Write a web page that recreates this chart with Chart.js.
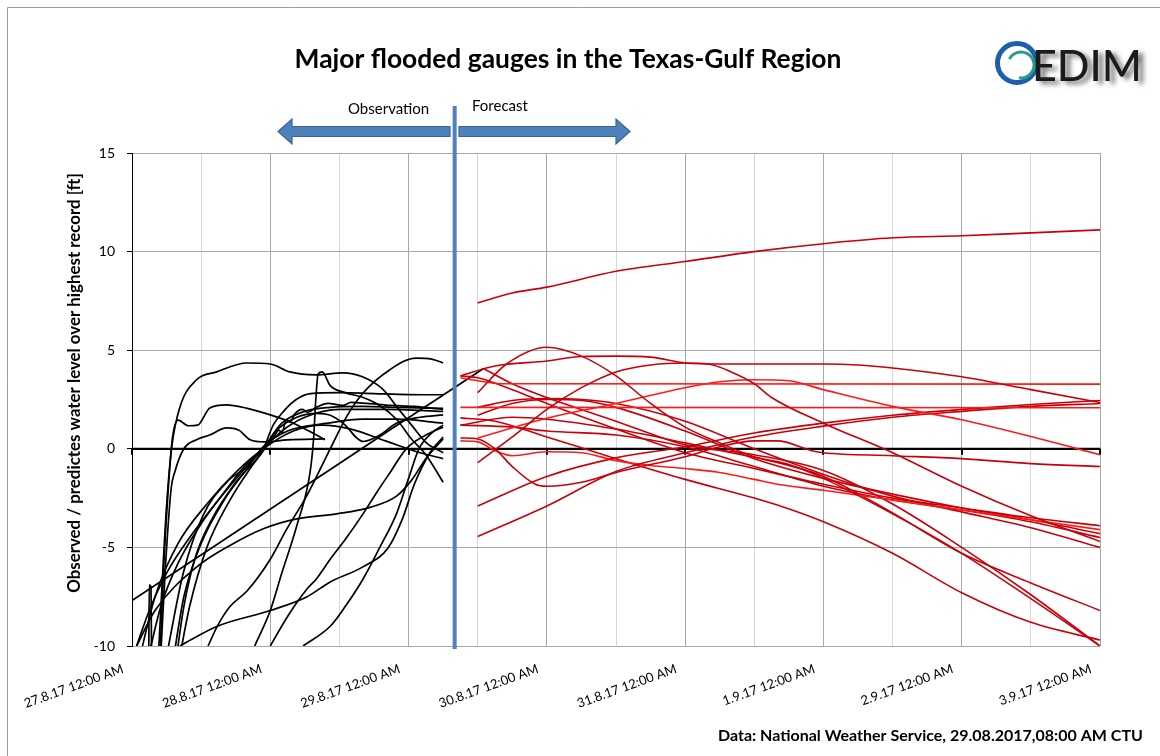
<!DOCTYPE html>
<html>
<head>
<meta charset="utf-8">
<script src="https://cdn.jsdelivr.net/npm/chart.js@4/dist/chart.umd.min.js"></script>
<style>
  html, body { margin: 0; padding: 0; background: #fff; }
  #c { display: block; }
</style>
</head>
<body>
<canvas id="c" width="1160" height="756"></canvas>
<script>
// x = hours after 27.8.17 12:00 AM, y = ft over highest record
var dayLabels = ['27.8.17 12:00 AM', '28.8.17 12:00 AM', '29.8.17 12:00 AM', '30.8.17 12:00 AM',
                 '31.8.17 12:00 AM', '1.9.17 12:00 AM', '2.9.17 12:00 AM', '3.9.17 12:00 AM'];
var yTicks = [-10, -5, 0, 5, 10, 15];
var issueHour = 56; // 29.8.17 08:00

// observed gauges (black)
var obs01 = [[4.5,-11],[5.2,-7],[6.0,-2.9],[6.9,0.1],[8.3,2.1],[11.2,3.5],[14.7,3.9],[19.9,4.35],[24,4.3],[27.4,3.9],[32,3.75],[36.6,3.85],[40,3.65],[43.6,3.0],[45.9,2.15],[48.8,1.1],[51.1,0.3],[54,-0.2]];
var obs02 = [[13.2,-10],[14.8,-9.0],[17,-8.0],[20,-7.2],[24,-5.6],[26.8,-4.1],[30.3,-2.4],[34.4,0],[37.3,1.66],[40.1,2.83],[44.7,4.0],[49.3,4.6],[52,4.55],[54,4.35]];
var obs03 = [[4.8,-11],[5.5,-6],[6.3,-2],[7.0,0.5],[8.0,1.45],[9.8,1.17],[11.4,1.2],[13.5,2.07],[16.4,2.23],[20,2.05],[24,1.72],[28,1.3],[32,0.7],[33.5,0.46]];
var obs04 = [[4.9,-11],[5.8,-6],[6.8,-2],[7.4,-1.2],[9,0.0],[11.2,0.46],[13.5,0.7],[16.4,1.06],[18.5,0.95],[20.5,0.46],[23,0.35],[27,0.45],[33.5,0.5]];
var obs05 = [[6.0,-10.5],[8.9,-6.3],[12.3,-3.4],[16.4,-1.7],[19.9,-0.9],[22.8,0.1],[24.6,0.6],[25.5,0.95],[26,0.8],[26.8,1.47],[27.5,1.35],[28.2,1.75],[29.6,2.0],[30.5,1.85],[32,2.1],[34,2.3],[36.6,2.2],[38,2.35],[40.8,2.3],[45,2.2],[49,2.15],[54,2.0]];
var obs06 = [[21.3,-10],[24,-8.2],[26,-6.3],[28.6,-3.9],[30.9,-1.2],[31.5,0.46],[31.9,2.5],[32.3,3.8],[33,3.9],[34.4,3.2],[37,2.85],[40.1,2.6],[43,2.2],[45.9,1.5],[48.5,0.5],[51,-0.3],[54,-1.7]];
var obs07 = [[7.5,-11],[9,-8],[11,-5.5],[14,-3.5],[18,-1.7],[22.8,0],[24.5,1.2],[26.3,1.9],[28.5,2.5],[31,2.8],[36,2.85],[42,2.8],[48,2.75],[54,2.74]];
var obs08 = [[8,-11],[10,-8],[13,-5],[17,-2.6],[20.5,-1.0],[22.8,-0.1],[25,0.9],[28.6,1.6],[32,1.8],[34.4,1.7],[37,1.2],[39,0.55],[40.1,0.37],[43,0.7],[45.9,1.3],[50,1.6],[54,1.72]];
var obs09 = [[0,-7.7],[15,-4.8],[30,-1.9],[45,1.0],[61,4.07]];
var obs10 = [[0.8,-10],[4,-8.2],[11.2,-6.0],[17,-4.9],[22.8,-4.05],[28.6,-3.55],[35.5,-3.3],[41.3,-2.97],[45.9,-2.4],[48.5,-1.6],[51,-0.5],[54,0.5]];
var obs11 = [[2.5,-11],[5,-8],[8,-5.8],[12,-3.8],[16,-2.2],[19.5,-0.9],[22.8,0.05],[26,1.3],[30,1.9],[34.4,2.1],[40,2.15],[46,2.1],[54,2.05]];
var obs12 = [[7,-11],[9,-7.5],[12,-4.8],[16,-2.6],[20,-1.0],[22.8,0.1],[27,0.9],[34,1.3],[40,1.5],[46,1.5],[54,1.3]];
var obs13 = [[8.3,-10],[14.8,-9.0],[24,-8.2],[30.4,-7.5],[34.4,-6.75],[40,-6.0],[44.5,-5.0],[47,-3.5],[49,-1.8],[51.7,-0.2],[54,0.6]];
var obs14 = [[24,-10],[27,-8.5],[30.4,-7.1],[32,-6.6],[34.4,-5.6],[37,-4.6],[40.1,-3.3],[42.5,-2.2],[44.8,-1.2],[47.6,0],[51.7,0.8],[54,1.1]];
var obs15 = [[29.7,-10],[34.4,-9.0],[37,-8.0],[40.1,-6.6],[43,-5.0],[45.9,-3.3],[48,-1.5],[49.8,0],[52,0.8],[54,1.2]];
var obs16 = [[1,-11],[4,-7.5],[8,-4.8],[13,-2.8],[18,-1.2],[22.8,0.0],[28,0.9],[33,1.2],[38,1.0],[44,0.4],[50,-0.2],[54,-0.5]];
var obs17 = [[2.9,-11],[3.0,-6.9],[3.3,-7.0],[3.4,-11]];
var obs18 = [[0.8,-10],[3,-8.2],[6,-6.3],[10,-4.5],[15,-2.6],[19,-1.2],[22.8,0.0],[26,0.9],[30,1.6],[36,2.0],[44,2.0],[54,1.9]];

// forecasts (red)
var fc01 = [[60,7.4],[66,7.9],[72,8.2],[84,9.0],[96,9.5],[108,10.0],[120,10.4],[132,10.7],[144,10.8],[156,10.95],[168,11.1]];
var fc02 = [[60,2.85],[65,4.3],[72,5.15],[78,4.7],[84,3.7],[90,2.3],[96,1.1],[102,0.3],[108,-0.4],[114,-0.8],[120,-1.5],[132,-3.3],[144,-5.3],[156,-7.6],[168,-10]];
var fc03 = [[57,3.7],[63,4.2],[72,4.45],[78,4.68],[84,4.7],[90,4.65],[96,4.35],[102,4.3],[108,4.3],[120,4.3],[126,4.25],[132,4.1],[144,3.65],[156,3.0],[168,2.35]];
var fc04 = [[60,-0.7],[66,0.6],[72,2.0],[78,3.1],[84,3.9],[90,4.25],[96,4.35],[100,4.3],[104,3.9],[108,3.3],[111,2.6],[120,1.3],[132,-0.2],[144,-1.9],[156,-3.4],[168,-4.7]];
var fc05 = [[57,3.6],[60,3.45],[64,3.3],[168,3.28]];
var fc06 = [[57,2.1],[168,2.08]];
var fc07 = [[60,0.55],[72,1.55],[84,2.3],[96,3.1],[102,3.4],[108,3.5],[114,3.45],[120,3.0],[132,2.15],[144,1.47],[156,0.62],[168,-0.3]];
var fc08 = [[57,0.55],[60,0.5],[63,0.0],[66,-0.9],[70,-1.8],[72,-1.9],[78,-1.7],[84,-1.2],[96,-0.4],[102,0.1],[108,0.4],[112,0.4],[118,-0.1],[120,-0.2],[132,-0.35],[144,-0.5],[156,-0.75],[168,-0.9]];
var fc09 = [[60,-2.9],[72,-1.4],[84,-0.46],[96,0.1],[108,0.8],[120,1.3],[132,1.7],[144,2.0],[156,2.25],[168,2.45]];
var fc10 = [[60,-4.45],[72,-2.9],[84,-1.15],[96,-0.2],[108,0.6],[120,1.15],[132,1.6],[144,1.9],[156,2.15],[168,2.3]];
var fc11 = [[57,0.4],[60,0.35],[63,-0.1],[66,-0.35],[72,-0.15],[78,-0.2],[84,-0.6],[90,-0.85],[96,-1.0],[102,-1.2],[108,-1.55],[112,-1.8],[120,-2.1],[132,-2.6],[144,-3.1],[156,-3.6],[168,-4.1]];
var fc12 = [[57,3.7],[60,3.6],[66,3.0],[72,2.3],[84,1.0],[96,-0.2],[108,-1.0],[120,-1.8],[132,-2.5],[144,-3.0],[156,-3.5],[168,-3.9]];
var fc13 = [[61,4.07],[66,3.3],[72,2.6],[84,1.4],[96,0.2],[108,-0.3],[120,-1.1],[132,-2.8],[144,-5.0],[156,-7.4],[168,-10]];
var fc14 = [[57,1.57],[63,1.4],[72,0.6],[84,-0.5],[96,-1.55],[108,-2.5],[112,-2.85],[120,-3.7],[132,-5.3],[144,-7.3],[156,-8.8],[168,-9.7]];
var fc15 = [[57,1.2],[66,1.6],[72,1.5],[84,1.0],[96,0.3],[104,-0.2],[110,-0.55],[120,-1.4],[132,-3.25],[144,-5.3],[156,-6.8],[168,-8.2]];
var fc16 = [[60,2.1],[66,2.45],[72,2.55],[78,2.5],[84,2.3],[96,1.4],[108,0.0],[120,-1.3],[132,-2.4],[144,-3.2],[156,-4.0],[168,-5.0]];
var fc17 = [[60,1.7],[66,2.3],[72,2.5],[78,2.45],[84,2.1],[96,0.9],[108,-0.5],[120,-1.5],[132,-2.3],[144,-3.0],[156,-3.6],[168,-4.3]];
var fc18 = [[57,1.2],[66,1.1],[72,0.9],[84,0.7],[96,0.1],[108,-0.9],[120,-1.9],[132,-2.6],[144,-3.1],[156,-3.7],[168,-4.5]];

var observed = [obs01, obs02, obs03, obs04, obs05, obs06, obs07, obs08, obs09,
                obs10, obs11, obs12, obs13, obs14, obs15, obs16, obs17, obs18];
var forecast = [fc01, fc02, fc03, fc04, fc05, fc06, fc07, fc08, fc09, fc10,
                fc11, fc12, fc13, fc14, fc15, fc16, fc17, fc18];
var brightRed = [fc05, fc06, fc07, fc11];

function toPoints(arr) {
  return arr.map(function(p) { return {x: p[0], y: p[1]}; });
}

var datasets = [];
forecast.forEach(function(s) {
  datasets.push({
    data: toPoints(s),
    borderColor: brightRed.indexOf(s) >= 0 ? '#ff1a1a' : '#c8000a',
    borderWidth: 1.6,
    pointRadius: 0,
    cubicInterpolationMode: 'monotone'
  });
});
observed.forEach(function(s) {
  datasets.push({
    data: toPoints(s),
    borderColor: '#000',
    borderWidth: 1.7,
    pointRadius: 0,
    cubicInterpolationMode: 'monotone'
  });
});

function fitSize(ctx, text, weight, family, width) {
  ctx.font = weight + ' 20px ' + family;
  return 20 * width / ctx.measureText(text).width;
}

function arrow(ctx, tipX, tailX, y) {
  var dir = tipX < tailX ? 1 : -1;
  var headLen = 14, half = 12.5, shaft = 5;
  var baseX = tipX + dir * headLen;
  ctx.beginPath();
  ctx.moveTo(tipX, y);
  ctx.lineTo(baseX, y - half);
  ctx.lineTo(baseX, y - shaft);
  ctx.lineTo(tailX, y - shaft);
  ctx.lineTo(tailX, y + shaft);
  ctx.lineTo(baseX, y + shaft);
  ctx.lineTo(baseX, y + half);
  ctx.closePath();
  ctx.fillStyle = '#4f81bd';
  ctx.fill();
  ctx.strokeStyle = '#3a6496';
  ctx.lineWidth = 1.2;
  ctx.stroke();
}

var deco = {
  id: 'deco',
  beforeDatasetsDraw: function(chart) {
    var ctx = chart.ctx, xs = chart.scales.x, ys = chart.scales.y;
    var y0 = ys.getPixelForValue(0);
    ctx.save();
    ctx.strokeStyle = '#000';
    ctx.lineWidth = 2.2;
    ctx.beginPath();
    ctx.moveTo(xs.left, y0);
    ctx.lineTo(xs.right, y0);
    ctx.stroke();
    ctx.lineWidth = 2;
    for (var h = 0; h <= 168; h += 24) {
      var x = Math.round(xs.getPixelForValue(h));
      ctx.beginPath();
      ctx.moveTo(x, y0);
      ctx.lineTo(x, y0 + 6);
      ctx.stroke();
    }
    ctx.restore();
  },
  afterDatasetsDraw: function(chart) {
    var ctx = chart.ctx, xs = chart.scales.x;
    var bx = xs.getPixelForValue(issueHour);
    ctx.save();
    arrow(ctx, 278, 450, 131.5);
    arrow(ctx, 630, 459, 131.5);
    ctx.strokeStyle = '#4f81bd';
    ctx.lineWidth = 4;
    ctx.beginPath();
    ctx.moveTo(bx, 106);
    ctx.lineTo(bx, 649);
    ctx.stroke();

    ctx.fillStyle = '#000';
    ctx.textBaseline = 'alphabetic';
    ctx.font = '15px Lato';
    ctx.textAlign = 'left';
    ctx.fillText('Observation', 348, 114);
    ctx.fillText('Forecast', 472, 111);
    ctx.restore();
  },
  afterDraw: function(chart) {
    var ctx = chart.ctx;
    ctx.save();
    // frame
    ctx.strokeStyle = '#9a9a9a';
    ctx.lineWidth = 1;
    ctx.beginPath();
    ctx.moveTo(7.5, 756);
    ctx.lineTo(7.5, 7.5);
    ctx.lineTo(1160, 7.5);
    ctx.stroke();

    // title
    var t = 'Major flooded gauges in the Texas-Gulf Region';
    var s = fitSize(ctx, t, 'bold', 'Lato', 547);
    ctx.font = 'bold ' + s + 'px Lato';
    ctx.fillStyle = '#000';
    ctx.textAlign = 'center';
    ctx.textBaseline = 'alphabetic';
    ctx.fillText(t, 568, 68);

    // footer
    var f = 'Data: National Weather Service, 29.08.2017,08:00 AM CTU';
    s = fitSize(ctx, f, 'bold', 'Lato', 425);
    ctx.font = 'bold ' + s + 'px Lato';
    ctx.textAlign = 'left';
    ctx.fillText(f, 718, 741);

    // y axis title
    var yt = 'Observed / predictes water level over highest record [ft]';
    s = fitSize(ctx, yt, 'bold', 'Lato', 420);
    ctx.translate(75, 383);
    ctx.rotate(-Math.PI / 2);
    ctx.font = 'bold ' + s + 'px Lato';
    ctx.textAlign = 'center';
    ctx.textBaseline = 'middle';
    ctx.fillText(yt, 0, 0);
    ctx.setTransform(1, 0, 0, 1, 0, 0);

    // EDIM logo
    ctx.lineWidth = 5;
    ctx.strokeStyle = '#1d5fab';
    ctx.beginPath();
    ctx.arc(1017, 63, 19.5, 0, Math.PI * 2);
    ctx.stroke();
    ctx.lineWidth = 3;
    ctx.strokeStyle = '#2a9c8a';
    ctx.beginPath();
    ctx.arc(1021, 65, 13, Math.PI * 1.15, Math.PI * 0.55);
    ctx.stroke();
    ctx.shadowColor = 'rgba(0,0,0,0.55)';
    ctx.shadowBlur = 5;
    ctx.shadowOffsetX = 5;
    ctx.shadowOffsetY = 3;
    s = fitSize(ctx, 'EDIM', '500', 'Lato', 110);
    ctx.font = '500 ' + s + 'px Lato';
    ctx.fillStyle = '#1b1b1b';
    ctx.textAlign = 'left';
    ctx.textBaseline = 'alphabetic';
    ctx.fillText('EDIM', 1032, 81);
    ctx.restore();
  }
};

new Chart(document.getElementById('c'), {
  type: 'line',
  data: { datasets: datasets },
  options: {
    responsive: false,
    animation: false,
    layout: { padding: { left: 0, right: 60, top: 153, bottom: 0 } },
    plugins: { legend: { display: false }, tooltip: { enabled: false }, title: { display: false } },
    scales: {
      x: {
        type: 'linear',
        min: 0,
        max: 168,
        afterFit: function(s) { s.height = 110; },
        afterBuildTicks: function(s) {
          var t = [];
          for (var h = 0; h <= 168; h += 12) t.push({ value: h });
          s.ticks = t;
        },
        ticks: {
          autoSkip: false,
          minRotation: 20,
          maxRotation: 20,
          padding: 15,
          labelOffset: -9,
          color: '#000',
          font: { family: 'Lato', size: 13 },
          callback: function(v) { return v % 24 === 0 ? dayLabels[v / 24] : ''; }
        },
        grid: {
          color: function(c) { return c.tick && c.tick.value % 24 === 0 ? '#a8a8a8' : '#d6d6d6'; },
          lineWidth: 1,
          drawTicks: false
        },
        border: { display: false }
      },
      y: {
        min: -10,
        max: 15,
        afterFit: function(s) { s.width = 132; },
        afterBuildTicks: function(s) {
          s.ticks = yTicks.map(function(v) { return { value: v }; });
        },
        ticks: { color: '#000', padding: 12, font: { family: 'Lato', size: 14 } },
        grid: { color: '#a8a8a8', tickColor: '#000', tickLength: 5 },
        border: { color: '#000', width: 1 }
      }
    }
  },
  plugins: [deco]
});
</script>
</body>
</html>
